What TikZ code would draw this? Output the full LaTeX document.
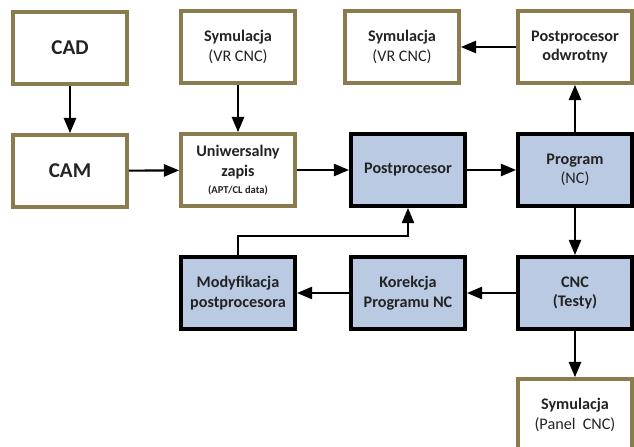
\documentclass[tikz,border=0pt]{standalone}
\usepackage{fontspec}
\setmainfont{Carlito}
\usetikzlibrary{arrows}

\definecolor{olivebox}{RGB}{139,124,80}
\definecolor{bluebox}{RGB}{185,202,226}
\definecolor{boxtext}{RGB}{35,35,35}

\begin{document}
\begin{tikzpicture}[x=0.025cm,y=-0.025cm,
    plain/.style={draw=olivebox,line width=2.8pt,fill=white,minimum width=2.85cm,minimum height=1.8cm,align=center,text=boxtext,font=\fontsize{11.5}{14}\selectfont},
    stage/.style={draw=black,line width=3pt,fill=bluebox,minimum width=2.85cm,minimum height=1.8cm,align=center,text=boxtext,font=\fontsize{11.5}{14}\selectfont},
    flow/.style={->,>=triangle 45,line width=1.5pt}]

  % page
  \useasboundingbox (0,0) rectangle (634,447);

  % left column
  \node[plain] (cad) at (70,48) {\fontsize{15}{18}\selectfont\bfseries CAD};
  \node[plain] (cam) at (70,171) {\fontsize{15}{18}\selectfont\bfseries CAM};

  % top row
  \node[plain] (simvr) at (238,47) {\textbf{Symulacja}\\(VR CNC)};
  \node[plain] (simback) at (402,47) {\textbf{Symulacja}\\(VR CNC)};
  \node[plain] (postback) at (575,47) {\textbf{Postprocesor}\\\textbf{odwrotny}};

  % middle row
  \node[plain] (uni) at (238,170) {\textbf{Uniwersalny}\\\textbf{zapis}\\[-2pt]{\fontsize{7.5}{9}\selectfont\bfseries (APT/CL data)}};
  \node[stage] (post) at (408,170) {\textbf{Postprocesor}};
  \node[stage] (prog) at (575,170) {\textbf{Program}\\(NC)};

  % bottom row
  \node[stage] (mod) at (238,293) {\textbf{Modyfikacja}\\\textbf{postprocesora}};
  \node[stage] (kor) at (408,293) {\textbf{Korekcja}\\\textbf{Programu NC}};
  \node[stage] (cnc) at (575,293) {\textbf{CNC}\\\textbf{(Testy)}};
  \node[plain] (simpanel) at (575,415) {\textbf{Symulacja}\\(Panel~~CNC)};

  \coordinate (bend) at (238,236);

  % connections
  \draw[flow] (cad) -- (cam);
  \draw[flow] (cam) -- (uni);
  \draw[flow] (simvr) -- (uni);
  \draw[flow] (uni) -- (post);
  \draw[flow] (post) -- (prog);
  \draw[flow] (prog) -- (postback);
  \draw[flow] (postback) -- (simback);
  \draw[flow] (prog) -- (cnc);
  \draw[flow] (cnc) -- (kor);
  \draw[flow] (kor) -- (mod);
  \draw[flow] (mod.north) -- (bend) -| (post.south);
  \draw[flow] (cnc) -- (simpanel);
\end{tikzpicture}
\end{document}
